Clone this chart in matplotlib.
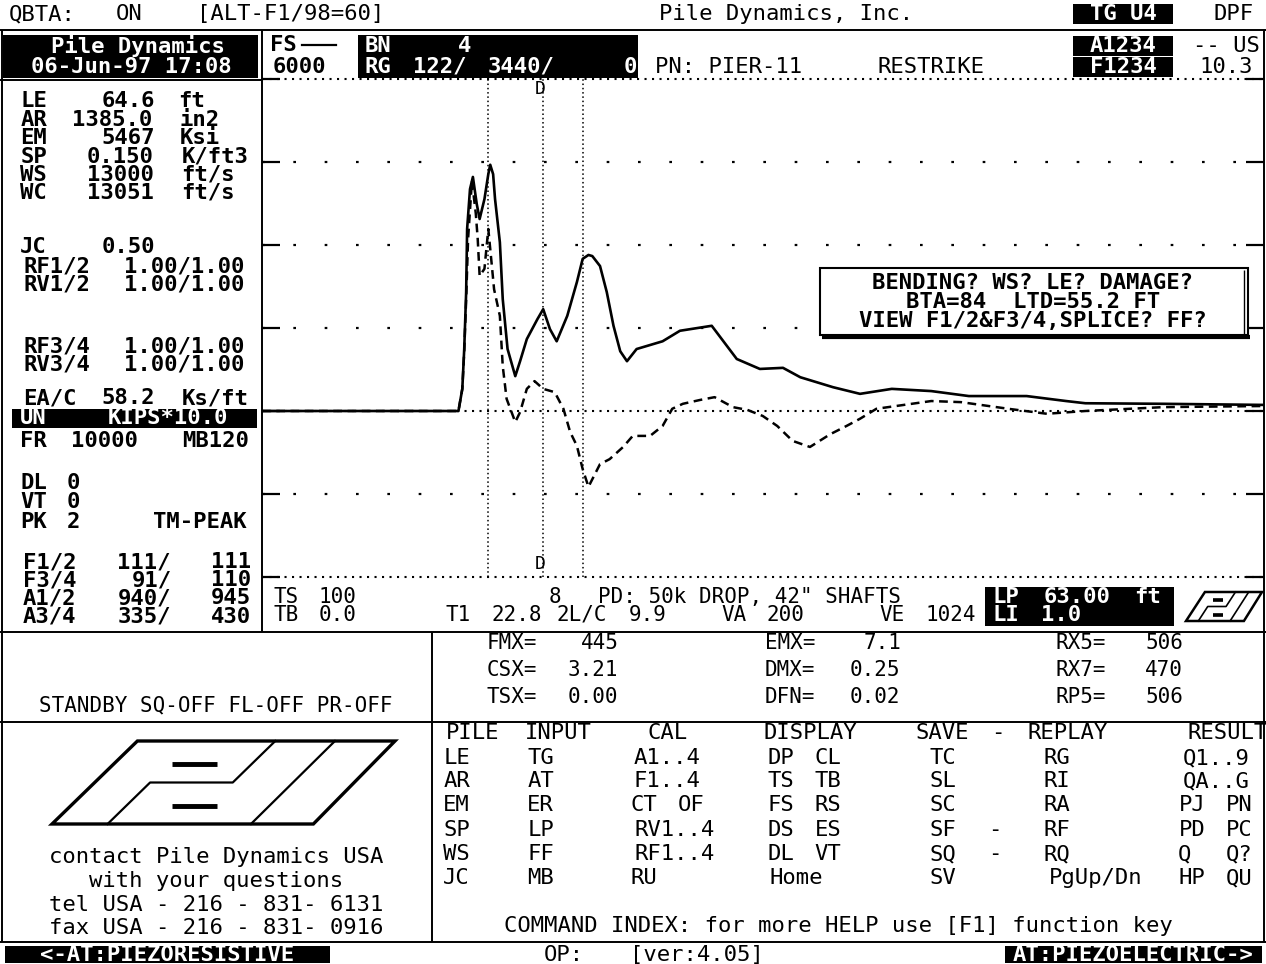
import re
import numpy as np
import matplotlib.pyplot as plt
from matplotlib.patches import Rectangle, Polygon

# traces: time in ms, force in kips
t_force = [0, 20.4, 20.8, 21.0, 21.2, 21.3, 21.6, 21.9, 22.3, 22.6, 23.1, 23.5, 23.7,
           24.0, 24.2, 24.7, 25.0, 25.5, 26.3, 26.8, 27.5, 28.6, 29.2, 29.9, 30.6,
           31.7, 32.7, 33.3, 33.9, 34.3, 35.1, 35.8, 36.5, 37.2, 37.9, 38.9, 41.6,
           43.4, 46.7, 49.3, 51.7, 54.1, 55.9, 59.3, 62.1, 65.4, 69.5, 73.4, 79.4,
           83.5, 85.5, 93.6, 104.0]
force = [0, 0, 40, 112, 215, 329, 401, 423, 374, 347, 383, 428, 445,
         428, 383, 305, 202, 112, 63, 90, 130, 166, 184, 148, 126,
         172, 233, 275, 282, 280, 262, 215, 154, 108, 90, 112, 126,
         145, 154, 94, 76, 78, 61, 43, 31, 40, 36, 27, 27,
         18, 14, 13, 11]

# velocity times impedance (dashed trace), kips
t_vel = [0, 20.4, 20.8, 21.0, 21.2, 21.4, 21.8, 22.2, 22.4, 22.6, 23.1, 23.5, 23.8,
         24.1, 24.7, 25.0, 25.4, 26.3, 26.8, 27.5, 28.3, 29.2, 30.4, 31.3, 32.0,
         32.7, 33.3, 33.9, 35.1, 36.1, 37.5, 38.5, 40.3, 41.6, 42.6, 43.7, 45.5,
         47.0, 48.9, 50.4, 52.0, 53.5, 55.1, 56.9, 59.0, 60.7, 62.1, 63.8, 69.5,
         72.6, 77.5, 81.5, 85.5, 93.6, 104.0]
vel_z = [0, 0, 40, 108, 202, 311, 416, 357, 311, 244, 257, 329, 275,
         220, 172, 81, 22, -20, -2, 40, 54, 40, 34, 4, -38,
         -63, -105, -137, -96, -87, -65, -45, -45, -27, 4, 13, 20,
         25, 7, 2, -9, -27, -54, -65, -42, -27, -14, 4, 18,
         16, 4, -5, 0, 7, 9]

cursor_t = [23.5, 29.2, 33.3]
grid_sparse = [450, 300, 150, -150]
grid_dense = [600, 0, -300]

left_lines = ["LE   64.6 ft", "AR 1385.0 in2", "EM   5467 Ksi", "SP  0.150 K/ft3",
              "WS  13000 ft/s", "WC  13051 ft/s", "JC   0.50",
              "RF1/2 1.00/1.00", "RV1/2 1.00/1.00", "RF3/4 1.00/1.00",
              "RV3/4 1.00/1.00", "EA/C 58.2 Ks/ft"]
left_lines2 = ["FR 10000  MB120", "DL 0", "VT 0", "PK 2    TM-PEAK",
               "F1/2  111/  111", "F3/4   91/  110", "A1/2  940/  945",
               "A3/4  335/  430"]

result_labels = [["FMX=", "CSX=", "TSX="], ["EMX=", "DMX=", "DFN="], ["RX5=", "RX7=", "RP5="]]
result_values = [["445", "3.21", "0.00"], ["7.1", "0.25", "0.02"], ["506", "470", "506"]]

alert_lines = ["BENDING? WS? LE? DAMAGE?", "BTA=84  LTD=55.2 FT", "VIEW F1/2&F3/4,SPLICE? FF?"]
contact_lines = ["contact Pile Dynamics USA", "with your questions",
                 "tel USA - 216 - 831- 6131", "fax USA - 216 - 831- 0916"]

menu_head = ["PILE INPUT", "CAL", "DISPLAY", "SAVE - REPLAY", "RESULT"]
menu_cols = [
    ["LE", "AR", "EM", "SP", "WS", "JC"],
    ["TG", "AT", "ER", "LP", "FF", "MB"],
    ["A1..4", "F1..4", "CT OF", "RV1..4", "RF1..4", "RU"],
    ["DP CL", "TS TB", "FS RS", "DS ES", "DL VT", "Home"],
    ["TC", "SL", "SC", "SF", "SQ", "SV"],
    ["", "", "", "-", "-", ""],
    ["RG", "RI", "RA", "RF", "RQ", "PgUp/Dn"],
    ["Q1..9", "QA..G", "PJ PN", "PD PC", "Q  Q?", "HP QU"],
]

FONT = 'DejaVu Sans Mono'
FS = 16
CELL = 15.8


def words(ax, x0, y, s, cell=CELL, color='black', size=FS, weight='bold'):
    # each word goes to its own character column, like on the screen
    for m in re.finditer(r'\S+', s):
        w = m.group()
        ax.text(x0 + (m.start() + len(w) / 2.0) * cell, y, w, ha='center', va='center',
                color=color, fontsize=size, fontweight=weight, family=FONT)


def line(ax, xc, y, s, color='black', size=FS, weight='normal'):
    ax.text(xc, y, s, ha='center', va='center', color=color, fontsize=size,
            fontweight=weight, family=FONT)


def black(ax, x0, y0, x1, y1):
    ax.add_patch(Rectangle((x0, y0), x1 - x0, y1 - y0, color='black', lw=0))


def hline(ax, y, x0, x1, lw=1.4):
    ax.plot([x0, x1], [y, y], color='k', lw=lw, solid_capstyle='butt')


def vline(ax, x, y0, y1, lw=1.4):
    ax.plot([x, x], [y0, y1], color='k', lw=lw, solid_capstyle='butt')


def draw_logo(ax, x0, y0, w, h, lw):
    def P(pts):
        return np.array([(x0 + u * w, y0 + v * h) for u, v in pts])
    ax.add_patch(Polygon(P([(0, 1), (0.249, 0), (1, 0), (0.762, 1)]), closed=True,
                         fill=False, ec='k', lw=lw * 1.5, joinstyle='miter'))
    a = P([(0.651, 0), (0.527, 0.5), (0.286, 0.5), (0.162, 1)])
    ax.plot(a[:, 0], a[:, 1], color='k', lw=lw)
    b = P([(0.825, 0), (0.58, 1)])
    ax.plot(b[:, 0], b[:, 1], color='k', lw=lw)
    for v in (0.28, 0.78):
        d = P([(0.349, v), (0.481, v)])
        ax.plot(d[:, 0], d[:, 1], color='k', lw=lw * 2.2, solid_capstyle='butt')


def run():
    plt.rcParams['font.family'] = [FONT]
    fig = plt.figure(figsize=(12.66, 9.64), dpi=100)
    fig.patch.set_facecolor('white')

    # ---- waveform window
    ax = fig.add_axes([262 / 1266, 387 / 964, 1002 / 1266, 498 / 964])
    ax.set_xlim(0, 104.05)
    ax.set_ylim(-300, 600)
    for s in ax.spines.values():
        s.set_visible(False)
    ax.set_xticks([])
    ax.set_yticks(grid_sparse + grid_dense)
    ax.tick_params(axis='y', direction='in', length=13, width=1.6, left=True,
                   right=True, labelleft=False)
    for g in grid_sparse:
        ax.axhline(g, color='k', lw=1.6, linestyle=(0, (1.2, 12.9)))
    for g in grid_dense:
        ax.axhline(g, color='k', lw=1.5, linestyle=(0, (1.0, 2.6)), clip_on=False)
    for c in cursor_t:
        ax.axvline(c, color='k', lw=1.1, linestyle=(0, (1.0, 1.8)))
    ax.plot(t_force, force, color='k', lw=1.9)
    ax.plot(t_vel, vel_z, color='k', lw=1.8, dashes=(3.5, 2.2))
    ax.text(28.9, 582, 'D', ha='center', va='center', fontsize=13, family=FONT)
    ax.text(28.9, -276, 'D', ha='center', va='center', fontsize=13, family=FONT)

    # ---- everything else drawn in screen pixels
    ov = fig.add_axes([0, 0, 1, 1], zorder=3)
    ov.set_xlim(0, 1266)
    ov.set_ylim(964, 0)
    ov.axis('off')
    ov.patch.set_alpha(0)

    # frame lines
    hline(ov, 30, 0, 1266)
    hline(ov, 80, 0, 262)
    hline(ov, 632, 0, 1266)
    hline(ov, 722, 0, 1266)
    hline(ov, 942, 0, 1266)
    vline(ov, 2, 30, 942)
    vline(ov, 1264, 30, 942)
    vline(ov, 262, 30, 632)
    vline(ov, 432, 632, 942)

    # top status line
    words(ov, 3, 14, "QBTA:  ON", weight='normal')
    words(ov, 180, 14, "[ALT-F1/98=60]", weight='normal')
    line(ov, 786, 14, "Pile Dynamics, Inc.")
    black(ov, 1073, 4, 1173, 24)
    line(ov, 1123, 14, "TG U4", color='white', weight='bold')
    line(ov, 1234, 14, "DPF")

    # header row
    black(ov, 3, 35, 258, 78)
    line(ov, 138, 46, "Pile Dynamics", color='white', weight='bold')
    line(ov, 131, 67, "06-Jun-97 17:08", color='white', weight='bold')
    words(ov, 268, 45, "FS")
    ov.plot([302, 336], [45, 45], color='k', lw=1.6)
    words(ov, 268, 67, "6000")
    black(ov, 358, 35, 638, 78)
    words(ov, 362, 46, "BN    4", color='white')
    words(ov, 362, 67, "RG", color='white')
    words(ov, 408, 67, "122/", color='white')
    words(ov, 482, 67, "3440/", color='white')
    words(ov, 622, 67, "0", color='white')
    line(ov, 729, 67, "PN: PIER-11")
    line(ov, 931, 67, "RESTRIKE")
    black(ov, 1073, 36, 1173, 56)
    line(ov, 1123, 46, "A1234", color='white', weight='bold')
    black(ov, 1073, 57, 1173, 77)
    line(ov, 1123, 67, "F1234", color='white', weight='bold')
    line(ov, 1226, 46, "-- US")
    line(ov, 1226, 67, "10.3")

    # left parameter panel
    y_top = [101, 120, 138, 157, 175, 193, 247, 266, 284, 347, 365, 398]
    for s, y in zip(left_lines, y_top):
        words(ov, 17.8, y, s)
    black(ov, 12, 409, 257, 428)
    words(ov, 17.8, 418, "UN   KIPS*10.0", color='white')
    y_low = [441, 483, 502, 522, 562, 580, 598, 617]
    for s, y in zip(left_lines2, y_low):
        words(ov, 17.8, y, s)

    # alert box inside the trace window
    ov.add_patch(Rectangle((820, 268), 428, 67, fc='white', ec='k', lw=1.5))
    hline(ov, 337, 822, 1250, lw=3)
    vline(ov, 1244, 270, 334, lw=1)
    for s, y in zip(alert_lines, [283, 302, 321]):
        line(ov, 1033, y, s, weight='bold')

    # rows under the trace
    sm = 15
    words(ov, 272, 597, "TS 100", cell=14.5, size=sm, weight='normal')
    words(ov, 548, 597, "8", cell=14.5, size=sm, weight='normal')
    line(ov, 750, 597, 'PD: 50k DROP, 42" SHAFTS', size=sm)
    words(ov, 272, 615, "TB 0.0", cell=14.5, size=sm, weight='normal')
    words(ov, 444, 615, "T1 22.8", cell=14.5, size=sm, weight='normal')
    words(ov, 553, 615, "2L/C 9.9", cell=14.5, size=sm, weight='normal')
    words(ov, 720, 615, "VA 200", cell=14.5, size=sm, weight='normal')
    words(ov, 878, 615, "VE 1024", cell=14.5, size=sm, weight='normal')
    black(ov, 985, 587, 1174, 626)
    words(ov, 990, 597, "LP 63.00 ft", cell=15.8, color='white')
    words(ov, 990, 615, "LI 1.0", cell=15.8, color='white')
    draw_logo(ov, 1186, 592, 76, 29, 1.2)

    # results
    line(ov, 216, 705, "STANDBY SQ-OFF FL-OFF PR-OFF", size=sm)
    lab_x = [483, 761, 1052]
    val_x = [622, 904, 1186]
    row_y = [643, 670, 697]
    for i in range(3):
        for j in range(3):
            words(ov, lab_x[i], row_y[j], result_labels[i][j], cell=14.5, size=sm,
                  weight='normal')
            v = result_values[i][j]
            words(ov, val_x[i] - len(v) * 14.5, row_y[j], v, cell=14.5, size=sm,
                  weight='normal')

    # logo + contact box
    draw_logo(ov, 52, 741, 343, 83, 1.6)
    for s, y in zip(contact_lines, [857, 881, 905, 928]):
        line(ov, 216, y, s)

    # command index
    head_x = [441, 644, 755, 911, 1181]
    for s, x in zip(menu_head, head_x):
        words(ov, x, 733, s, cell=15.7, weight='normal')
    col_x = [441, 525, 628, 765, 927, 987, 1041, None]
    row_m = [758, 781, 805, 830, 854, 878]
    for col, x in zip(menu_cols, col_x):
        for s, y in zip(col, row_m):
            if x is None:
                words(ov, 1255 - len(s) * 15.7, y, s, cell=15.7, weight='normal')
            else:
                words(ov, x, y, s, cell=15.7, weight='normal')
    line(ov, 838, 926, "COMMAND INDEX: for more HELP use [F1] function key")

    # bottom status line
    black(ov, 5, 946, 330, 963)
    line(ov, 167, 955, "<-AT:PIEZORESISTIVE", color='white', weight='bold')
    words(ov, 540, 955, "OP:", weight='normal')
    words(ov, 618, 955, "[ver:4.05]", weight='normal')
    black(ov, 1005, 946, 1262, 963)
    line(ov, 1133, 955, "AT:PIEZOELECTRIC->", color='white', weight='bold')

    fig.savefig('out.png', dpi=100)


if __name__ == '__main__':
    run()
